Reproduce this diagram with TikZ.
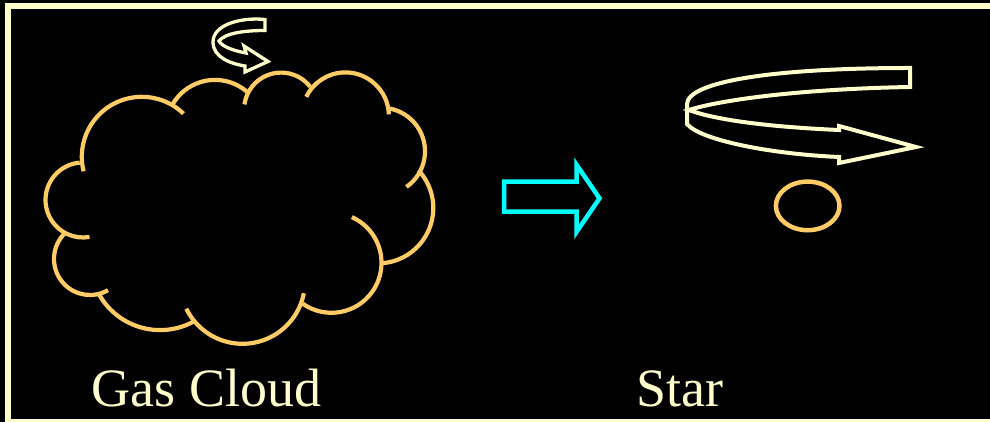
\documentclass[tikz,border=0pt]{standalone}
\usepackage{fontspec}
\setmainfont{Liberation Serif}
\usetikzlibrary{positioning}
\definecolor{cCream}{HTML}{FFFFCC}
\definecolor{cGas}{HTML}{FFCC66}
\definecolor{cCyan}{HTML}{00FFFF}
\tikzset{
  puff/.style={draw=cGas, line width=4.2pt},
  ribbon/.style={draw=cCream, line width=#1, line join=miter, fill=black},
  ribbon/.default=4pt,
  pushArrow/.style={draw=cCyan, line width=4.5pt, line join=miter},
  lbl/.style={text=cCream, font=\fontsize{54}{60}\selectfont, inner sep=0pt, anchor=base west},
}

\begin{document}
\begin{tikzpicture}[x=1pt, y=1pt]
  \fill[black] (0,0) rectangle (990,422);
  \useasboundingbox (0,0) rectangle (990,422);
  \clip (0,0) rectangle (990,422);
  % slide frame
  \draw[cCream, line width=5.5pt] (7.8,0.5) rectangle (1000,415.8);

  % gas cloud: centre x / centre y / radius / start / end
  \foreach \cx/\cy/\r/\a/\b in {
      83/222/37.5/95/280,
      90/163/36/134/300,
      160.1/161.9/70/210/298,
      242.5/140.7/62.5/206/349,
      331.5/159.2/50/235/426,
      377.9/214/55.4/-86/43,
      381.5/270.7/43.5/-55/81,
      345.4/306.1/43.5/2/154,
      281.1/312.4/37/38/172,
      215/293.1/49/48/149,
      141.8/265.2/60/46/194}
    \draw[puff] (\cx,\cy) ++(\a:\r) arc[start angle=\a, end angle=\b, radius=\r];

  % small spin over the cloud
  \draw[ribbon=3.3pt] (265,402.5)
    .. controls (240,405) and (213,397) .. (213,380)
    .. controls (213,364) and (232,358) .. (245,356)
    -- (245,350) -- (268,360.5) -- (244,376) -- (246,369)
    .. controls (235,371) and (222,375) .. (219,381)
    .. controls (225,389) and (245,391.5) .. (265,391.5) -- cycle;

  % collapse arrow
  \draw[pushArrow] (504,240.3) -- (576.7,240.3) -- (576.7,257) -- (599.5,223.7)
    -- (576.7,190.3) -- (576.7,210.3) -- (504,210.3) -- cycle;

  % fast spin over the star
  \draw[ribbon] (910,354)
    .. controls (770,354) and (688,340) .. (687,318)
    -- (687,298)
    .. controls (700,282) and (770,268) .. (839,265)
    -- (839,259) -- (916,275) -- (839,296) -- (839,292)
    .. controls (770,295) and (715,302) .. (689,312)
    .. controls (720,322) and (800,333) .. (910,335) -- cycle;

  % the star
  \draw[cGas, line width=4.5pt] (807.7,216.1) ellipse[x radius=31.8, y radius=24.3];

  \node[lbl] (gasLbl) at (91.5,15.3) {Gas Cloud};
  \node[lbl] (starLbl) at (636,15.3) {Star};
\end{tikzpicture}
\end{document}
